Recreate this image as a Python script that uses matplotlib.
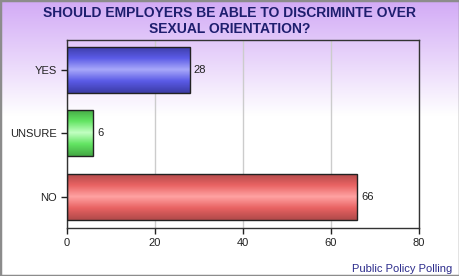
import numpy as np
import matplotlib
matplotlib.use("Agg")
import matplotlib.pyplot as plt
from matplotlib.colors import LinearSegmentedColormap
from matplotlib.patches import Rectangle

categories = ["NO", "UNSURE", "YES"]
values = [66, 6, 28]
dark_colors = ["#b04a4a", "#44a844", "#3c3ca6"]
sat_colors = ["#e86262", "#62e462", "#5a5ae6"]
light_colors = ["#ffa2a2", "#c2ffc2", "#a8a8fa"]
x_ticks = [0, 20, 40, 60, 80]

plt.rcParams['font.family'] = ['Liberation Sans', 'DejaVu Sans']

fig = plt.figure(figsize=(4.6, 2.76), dpi=100)

# purple-to-white background gradient
bg = fig.add_axes([0, 0, 1, 1], zorder=-10)
bg_cmap = LinearSegmentedColormap.from_list("bg", ["#d2aaf6", "#ffffff"])
grad = np.linspace(0, 1, 276)
grad = np.clip(grad / 0.42, 0, 1).reshape(-1, 1)
bg.imshow(grad, cmap=bg_cmap, aspect="auto", extent=[0, 1, 0, 1], origin="upper")
bg.axis("off")
fig.patches.append(Rectangle((0, 0), 1, 1, transform=fig.transFigure, fill=False,
                             edgecolor="#8c8c8c", linewidth=2.5))

ax = fig.add_axes([67 / 460, 1 - 228 / 276, 352 / 460, 188 / 276])
ax.set_facecolor("none")

y = np.arange(len(categories))
bars = ax.barh(y, values, height=0.725, color="none", edgecolor="#222222", linewidth=1.0, zorder=3)

for bar, c_dark, c_sat, c_light, v in zip(bars, dark_colors, sat_colors, light_colors, values):
    cmap = LinearSegmentedColormap.from_list(
        "b", [(0, c_dark), (0.25, c_sat), (0.5, c_light), (0.75, c_sat), (1, c_dark)])
    x0, y0 = bar.get_x(), bar.get_y()
    w, h = bar.get_width(), bar.get_height()
    g = np.linspace(0, 1, 100).reshape(-1, 1)
    im = ax.imshow(g, cmap=cmap, aspect="auto", extent=[x0, x0 + w, y0, y0 + h],
                   origin="lower", zorder=2)
    im.set_clip_path(bar)
    ax.text(v + 0.8, bar.get_y() + h / 2, str(v), va="center", ha="left",
            fontsize=8, color="#222222", zorder=4)

ax.set_xlim(0, 80)
ax.set_ylim(-0.49, 2.47)
ax.set_xticks(x_ticks)
ax.set_yticks(y)
ax.set_yticklabels(categories)
ax.xaxis.grid(True, color="#cccccc", linewidth=1.0)
ax.set_axisbelow(True)
ax.tick_params(axis="both", labelsize=8, colors="#222222", length=4, width=1)
for s in ax.spines.values():
    s.set_color("#333333")
    s.set_linewidth(1.0)

fig.text(0.5, 1 - 13 / 276, "SHOULD EMPLOYERS BE ABLE TO DISCRIMINTE OVER",
         ha="center", va="center", fontsize=10, fontweight="bold", color="#1e1e6e")
fig.text(0.5, 1 - 29 / 276, "SEXUAL ORIENTATION?",
         ha="center", va="center", fontsize=10, fontweight="bold", color="#1e1e6e")
fig.text(452 / 460, 1 - 269 / 276, "Public Policy Polling",
         ha="right", va="center", fontsize=8, color="#2c2c8c")

fig.savefig("out.png", dpi=100)
